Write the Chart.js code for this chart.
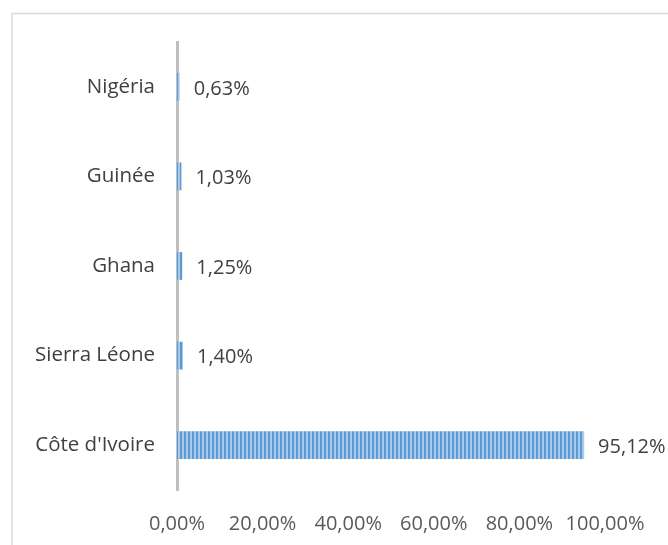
<!DOCTYPE html>
<html>
<head>
<meta charset="utf-8">
<script src="https://cdn.jsdelivr.net/npm/chart.js@4"></script>
<style>
html,body{margin:0;padding:0;background:#fff;}
#wrap{width:668px;height:545px;position:relative;}
</style>
</head>
<body>
<div id="wrap"><canvas id="c" width="668" height="545"></canvas></div>
<script>
const categories = ['Nigéria', 'Guinée', 'Ghana', 'Sierra Léone', "Côte d'Ivoire"];
const shares = [0.63, 1.03, 1.25, 1.40, 95.12];
const xTicks = [0, 20, 40, 60, 80, 100];

const FONT = '"Open Sans", sans-serif';
const fmt = v => v.toFixed(2).replace('.', ',') + '%';

function stripePattern() {
  const c = document.createElement('canvas');
  c.width = 4; c.height = 4;
  const g = c.getContext('2d');
  g.fillStyle = '#a9c8ea'; g.fillRect(0, 0, 4, 4);
  g.fillStyle = '#5b9bd5'; g.fillRect(0, 0, 2, 4);
  return g.createPattern(c, 'repeat');
}

const framePlugin = {
  id: 'frame',
  beforeDraw(chart) {
    const ctx = chart.ctx;
    ctx.save();
    ctx.strokeStyle = '#d9d9d9';
    ctx.lineWidth = 1.5;
    ctx.strokeRect(12, 13.5, 700, 600);
    ctx.restore();
  }
};

const labelPlugin = {
  id: 'vlabels',
  afterDatasetsDraw(chart) {
    const ctx = chart.ctx;
    const meta = chart.getDatasetMeta(0);
    ctx.save();
    ctx.font = '20px ' + FONT;
    ctx.fillStyle = '#404040';
    ctx.textAlign = 'left';
    ctx.textBaseline = 'middle';
    meta.data.forEach((bar, i) => {
      ctx.fillText(fmt(shares[i]), bar.x + 14, bar.y + 2);
    });
    ctx.restore();
  }
};

new Chart(document.getElementById('c'), {
  type: 'bar',
  data: {
    labels: categories,
    datasets: [{
      data: shares,
      backgroundColor: stripePattern(),
      borderWidth: 0,
      barPercentage: 0.62,
      categoryPercentage: 0.5
    }]
  },
  options: {
    indexAxis: 'y',
    responsive: false,
    devicePixelRatio: 1,
    animation: false,
    layout: { padding: { left: 0, top: 42, right: 63, bottom: 0 } },
    plugins: { legend: { display: false }, tooltip: { enabled: false } },
    scales: {
      x: {
        min: 0, max: 100,
        afterBuildTicks: s => { s.ticks = xTicks.map(v => ({ value: v })); },
        afterFit: s => { s.height = 55; },
        grid: { display: false },
        border: { display: false },
        ticks: {
          padding: 14,
          color: '#595959',
          font: { family: FONT, size: 20 },
          maxRotation: 0,
          autoSkip: false,
          callback: v => fmt(v)
        }
      },
      y: {
        afterFit: s => { s.width = 177; },
        grid: { display: false },
        border: { display: true, color: '#bfbfbf', width: 3 },
        ticks: {
          padding: 14,
          color: '#404040',
          font: { family: FONT, size: 20.5 }
        }
      }
    }
  },
  plugins: [framePlugin, labelPlugin]
});
</script>
</body>
</html>
